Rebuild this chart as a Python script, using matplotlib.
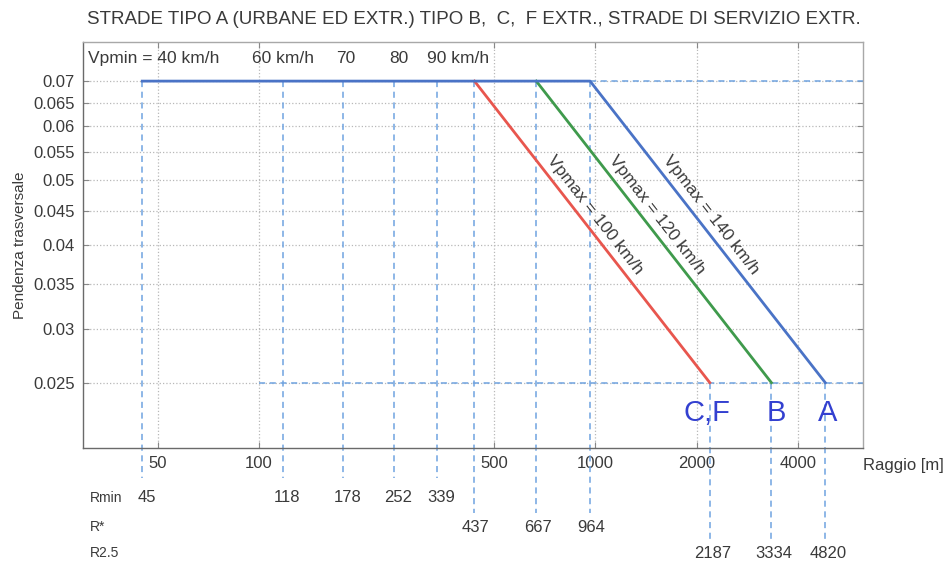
import numpy as np
import matplotlib
matplotlib.use('Agg')
import matplotlib.pyplot as plt
from matplotlib.ticker import FixedLocator, FixedFormatter, NullLocator

plt.rcParams['font.family'] = ['Liberation Sans', 'DejaVu Sans']

# ---------------- data ----------------
title = "STRADE TIPO A (URBANE ED EXTR.) TIPO B,  C,  F EXTR., STRADE DI SERVIZIO EXTR."
q_max = 0.07
q_min = 0.025
r_min = [45, 118, 178, 252, 339]
vp_min_labels = ["Vpmin = 40 km/h", "60 km/h", "70", "80", "90 km/h"]
r_star = [437, 667, 964]
r_25 = [2187, 3334, 4820]
vp_max_labels = ["Vpmax = 100 km/h", "Vpmax = 120 km/h", "Vpmax = 140 km/h"]
road_types = ["C,F", "B", "A"]
curve_colors = ["#e8564e", "#3f9a4c", "#4a73c6"]
y_ticks = [0.025, 0.03, 0.035, 0.04, 0.045, 0.05, 0.055, 0.06, 0.065, 0.07]
x_ticks = [50, 100, 500, 1000, 2000, 4000]
row_labels = ["Rmin", "R*", "R2.5"]

W, H = 949, 568
fig = plt.figure(figsize=(W / 100, H / 100), dpi=100)
ax = fig.add_axes([83 / W, 1 - 448 / H, 780 / W, 406 / H])
ax.set_xscale('log')
ax.set_yscale('log')
ax.set_xlim(30, 6240)
ax.set_ylim(0.02, 0.08)

txt = '#3a3a3a'
ax.yaxis.set_major_locator(FixedLocator(y_ticks))
ax.yaxis.set_major_formatter(FixedFormatter([f"{v:g}" for v in y_ticks]))
ax.yaxis.set_minor_locator(NullLocator())
ax.xaxis.set_major_locator(FixedLocator(x_ticks))
ax.xaxis.set_major_formatter(FixedFormatter([str(v) for v in x_ticks]))
ax.xaxis.set_minor_locator(NullLocator())
ax.tick_params(direction='in', top=True, right=True, length=4, color='#888888',
               labelsize=12, labelcolor=txt, pad=6)
ax.grid(True, color='#b8b8b8', linestyle=':', linewidth=0.9)
for k, s in ax.spines.items():
    s.set_color('#6a6a6a' if k in ('left', 'bottom') else '#a8a8a8')
    s.set_linewidth(1.0)

fig.canvas.draw()


def frac_to_y(f):
    return ax.transData.inverted().transform(ax.transAxes.transform((0.5, f)))[1]


xmax = ax.get_xlim()[1]
dash_col = '#6fa3e0'
dash_kw = dict(color=dash_col, linestyle=(0, (4, 3)), linewidth=1.1, clip_on=False, zorder=2)

# dashed helper lines
ax.plot([r_star[-1], xmax], [q_max, q_max], **dash_kw)
ax.plot([100, xmax], [q_min, q_min], **dash_kw)
for r in r_min:
    ax.plot([r, r], [q_max, frac_to_y(-0.074)], **dash_kw)
for r in r_star:
    ax.plot([r, r], [q_max, frac_to_y(-0.16)], **dash_kw)
for r in r_25:
    ax.plot([r, r], [q_min, frac_to_y(-0.235)], **dash_kw)

# curves
for i in range(3):
    if i == 2:
        xs = [r_min[0], r_star[i], r_25[i]]
        ys = [q_max, q_max, q_min]
    else:
        xs = [r_star[i], r_25[i]]
        ys = [q_max, q_min]
    ax.plot(xs, ys, color=curve_colors[i], linewidth=2.0, zorder=3 + (i == 2))

# labels along sloped lines
for i in range(3):
    p1 = ax.transData.transform((r_star[i], q_max))
    p2 = ax.transData.transform((r_25[i], q_min))
    ang = np.degrees(np.arctan2(p2[1] - p1[1], p2[0] - p1[0]))
    t = 0.47
    xm = np.exp(np.log(r_star[i]) + t * (np.log(r_25[i]) - np.log(r_star[i])))
    ym = np.exp(np.log(q_max) + t * (np.log(q_min) - np.log(q_max)))
    th = np.radians(ang)
    d = 9
    ax.annotate(vp_max_labels[i], (xm, ym), xytext=(-np.sin(th) * d, np.cos(th) * d),
                textcoords='offset points', rotation=ang, rotation_mode='anchor',
                ha='center', va='center', fontsize=12.5, color=txt)

# Vpmin labels at top
ax.text(0.006, 0.96, vp_min_labels[0], transform=ax.transAxes, ha='left', va='center',
        fontsize=12.5, color=txt)
offs = [0, 0, 3, 5, 21]
for i in range(1, 5):
    ax.annotate(vp_min_labels[i], (r_min[i], 0.96), xycoords=('data', 'axes fraction'),
                xytext=(offs[i] * 0.72, 0), textcoords='offset points',
                ha='center', va='center', fontsize=12.5, color=txt)

# bottom rows
row_y = [-0.123, -0.195, -0.259]
for lab, yy in zip(row_labels, row_y):
    ax.text(0.009, yy, lab, transform=ax.transAxes, ha='left', va='center',
            fontsize=10, color=txt)
for r in r_min:
    ax.annotate(str(r), (r, row_y[0]), xycoords=('data', 'axes fraction'),
                xytext=(3, 0), textcoords='offset points', ha='center', va='center',
                fontsize=12, color=txt, annotation_clip=False)
for r in r_star:
    ax.annotate(str(r), (r, row_y[1]), xycoords=('data', 'axes fraction'),
                xytext=(1, 0), textcoords='offset points', ha='center', va='center',
                fontsize=12, color=txt, annotation_clip=False)
for r in r_25:
    ax.annotate(str(r), (r, row_y[2]), xycoords=('data', 'axes fraction'),
                xytext=(2, 0), textcoords='offset points', ha='center', va='center',
                fontsize=12, color=txt, annotation_clip=False)

ax.text(1.0, -0.042, "Raggio [m]", transform=ax.transAxes, ha='left', va='center',
        fontsize=12, color=txt)

# handwritten road type letters
hoffs = [-3, 5, 2]
for lab, r, o in zip(road_types, r_25, hoffs):
    ax.annotate(lab, (r, 0.086), xycoords=('data', 'axes fraction'),
                xytext=(o * 0.72, 0), textcoords='offset points', ha='center', va='center',
                fontsize=21, color='#3340d0')

ax.set_ylabel("Pendenza trasversale", fontsize=11, color=txt, labelpad=4)
fig.text(474 / W, 1 - 19 / H, title, ha='center', va='center', fontsize=13.5, color=txt)

fig.savefig('out.png', dpi=100, facecolor='white')
